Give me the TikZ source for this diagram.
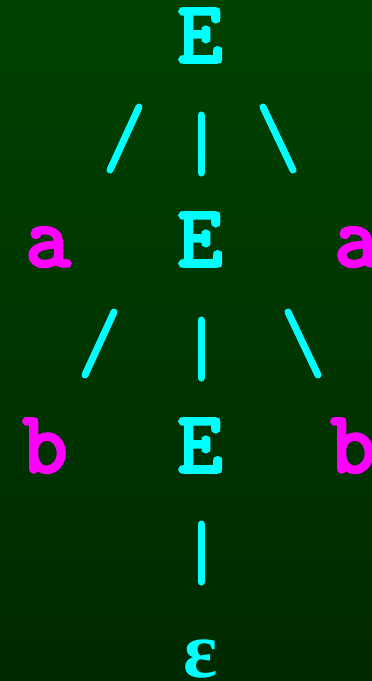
\documentclass[tikz,border=0pt]{standalone}
\usepackage{fontspec}
\newfontfamily\epsfont{Liberation Serif}
\newfontfamily\codefont[FakeBold=4]{Latin Modern Mono}
\definecolor{bgtop}{RGB}{0,66,0}
\definecolor{bgbot}{RGB}{0,42,0}
\definecolor{ecol}{RGB}{0,255,255}
\definecolor{tcol}{RGB}{255,0,255}
\tikzset{
  nt/.style={text=ecol, inner sep=0pt, anchor=base, font=\fontsize{87}{87}\selectfont\codefont},
  term/.style={text=tcol, inner sep=0pt, anchor=base, font=\fontsize{87}{87}\selectfont\codefont},
  epsst/.style={text=ecol, inner sep=0pt, anchor=base, font=\fontsize{80}{80}\selectfont\epsfont\bfseries},
  edge/.style={draw=ecol, line width=7pt, line cap=round}
}
\begin{document}
\begin{tikzpicture}[x=1pt,y=-1pt]
\shade[top color=bgtop, bottom color=bgbot] (0,0) rectangle (372,681);
\useasboundingbox (0,0) rectangle (372,681);
% rows of symbols
\node[nt] (E1) at (200,62) {E};
\node[term] (a1) at (48,266) {a};
\node[nt] (E2) at (200,266) {E};
\node[term] (a2) at (357,266) {a};
\node[term] (b1) at (45,472) {b};
\node[nt] (E3) at (200,472) {E};
\node[term] (b2) at (353,472) {b};
\node[epsst] (eps) at (201,677) {ε};
% connector end points
\coordinate (s1a) at (139,107); \coordinate (s1b) at (110,170);
\coordinate (v1a) at (201,115); \coordinate (v1b) at (201,173);
\coordinate (r1a) at (263,107); \coordinate (r1b) at (293,170);
\coordinate (s2a) at (114,312); \coordinate (s2b) at (85,375);
\coordinate (v2a) at (201,320); \coordinate (v2b) at (201,378);
\coordinate (r2a) at (288,312); \coordinate (r2b) at (318,375);
\coordinate (v3a) at (201,524); \coordinate (v3b) at (201,582);
\draw[edge] (s1a) -- (s1b);
\draw[edge] (v1a) -- (v1b);
\draw[edge] (r1a) -- (r1b);
\draw[edge] (s2a) -- (s2b);
\draw[edge] (v2a) -- (v2b);
\draw[edge] (r2a) -- (r2b);
\draw[edge] (v3a) -- (v3b);
\end{tikzpicture}
\end{document}
